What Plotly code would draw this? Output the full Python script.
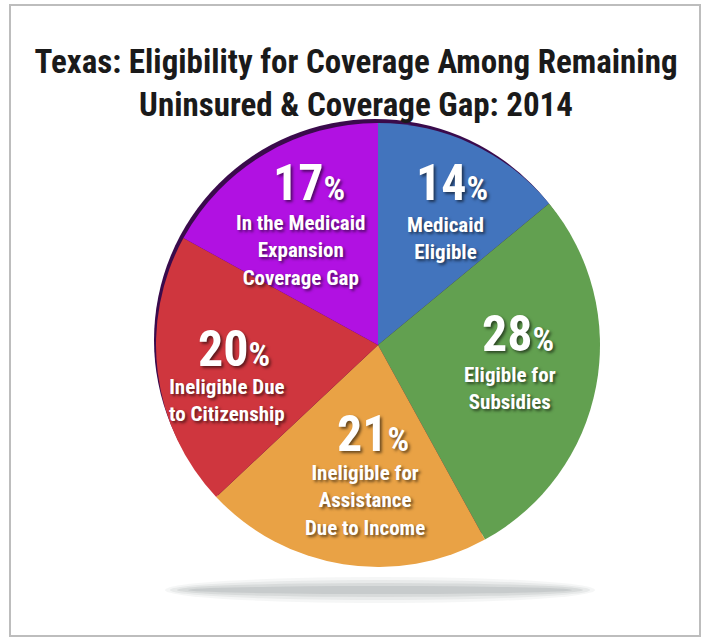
import plotly.graph_objects as go

# ---- data ----
categories = [
    "Medicaid Eligible",
    "Eligible for Subsidies",
    "Ineligible for Assistance Due to Income",
    "Ineligible Due to Citizenship",
    "In the Medicaid Expansion Coverage Gap",
]
label_lines = [
    "Medicaid<br>Eligible",
    "Eligible for<br>Subsidies",
    "Ineligible for<br>Assistance<br>Due to Income",
    "Ineligible Due<br>to Citizenship",
    "In the Medicaid<br>Expansion<br>Coverage Gap",
]
values = [14, 28, 21, 20, 17]
colors = ["#4274BD", "#62A050", "#E9A245", "#CF363E", "#B111E2"]
title_text = "Texas: Eligibility for Coverage Among Remaining<br>Uninsured & Coverage Gap: 2014"

W, H = 704, 639
FONT = "Roboto Condensed, Roboto, Liberation Sans, sans-serif"

def px(x):
    return x / W

def py(y):
    return 1 - y / H

# pie geometry (screen pixels)
cx, cy, r = 378, 345, 222

fig = go.Figure()
fig.add_trace(go.Pie(
    labels=categories,
    values=values,
    sort=False,
    direction="clockwise",
    rotation=0,
    marker=dict(colors=colors, line=dict(width=0)),
    textinfo="none",
    hoverinfo="label+percent",
    showlegend=False,
    domain=dict(x=[px(cx - r), px(cx + r)], y=[py(cy + r), py(cy - r)]),
))

# label positions (screen pixels): (pct_x, pct_y, text_x, text_y_center)
label_pos = [
    (452, 183, 445, 238),
    (518, 334, 510, 388),
    (373, 434, 365, 500),
    (234, 349, 227, 401),
    (309, 183, 300, 250),
]

shadow = "2px 2px 3px rgba(0,0,0,0.55)"
annotations = []
for v, lab, (pxx, pyy, tx, ty) in zip(values, label_lines, label_pos):
    annotations.append(dict(
        x=px(pxx), y=py(pyy), xref="paper", yref="paper",
        text=f"<b>{v}<span style='font-size:34px'>%</span></b>",
        showarrow=False, xanchor="center", yanchor="middle",
        font=dict(family=FONT, size=50, color="white", shadow=shadow),
    ))
    annotations.append(dict(
        x=px(tx), y=py(ty), xref="paper", yref="paper",
        text=f"<b>{lab}</b>",
        showarrow=False, xanchor="center", yanchor="middle",
        align="center",
        font=dict(family=FONT, size=21, color="white", shadow=shadow),
    ))

rr = r - 1
shapes = [
    dict(type="rect", xref="paper", yref="paper",
         x0=px(10), x1=px(700), y0=py(636), y1=py(5),
         line=dict(color="#BDBDBD", width=2), fillcolor="rgba(0,0,0,0)"),
    # dark rim visible at the top-left of the pie
    dict(type="circle", xref="paper", yref="paper",
         x0=px(cx - 3 - rr), x1=px(cx - 3 + rr), y0=py(cy - 5 + rr), y1=py(cy - 5 - rr),
         line=dict(width=0), fillcolor="#3A0B4C", layer="below"),
]
# soft shadow under the pie
for ry, rx, op in [(13, 215, 0.07), (10, 210, 0.10), (7, 203, 0.14), (4, 192, 0.17)]:
    shapes.append(dict(type="circle", xref="paper", yref="paper",
                       x0=px(380 - rx), x1=px(380 + rx), y0=py(590 + ry), y1=py(590 - ry),
                       line=dict(width=0), fillcolor=f"rgba(120,125,130,{op})", layer="below"))

fig.update_layout(
    width=W, height=H,
    margin=dict(l=0, r=0, t=0, b=0),
    paper_bgcolor="white",
    plot_bgcolor="white",
    title=dict(text=f"<b>{title_text}</b>", x=px(356), xanchor="center",
               y=py(73), yanchor="middle",
               font=dict(family=FONT, size=33, color="#1A1A1A")),
    annotations=annotations,
    shapes=shapes,
)

fig.write_html("out.html", config={"displayModeBar": False},
               post_script="document.body.style.margin='0';")
